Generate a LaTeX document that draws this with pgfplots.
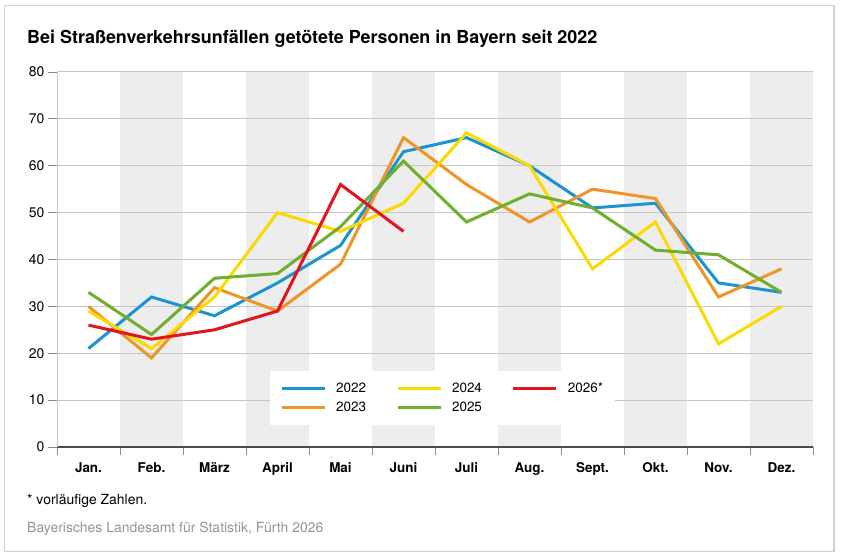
\documentclass[border=0pt]{standalone}
\usepackage{fontspec}
\setmainfont{TeX Gyre Heros}
\usepackage{pgfplots}
\pgfplotsset{compat=1.18}
\definecolor{c22}{HTML}{1C93D1}
\definecolor{c23}{HTML}{EE9527}
\definecolor{c24}{HTML}{FCDA00}
\definecolor{c25}{HTML}{6FAF2D}
\definecolor{c26}{HTML}{E2141C}
\definecolor{band}{HTML}{EDEDED}
\definecolor{gridc}{HTML}{C6C6C6}
\begin{document}
\begin{tikzpicture}
\fill[white] (0bp,0bp) rectangle (841bp,557bp);
\draw[black!18, line width=1.2bp] (4.5bp,5.5bp) rectangle (834bp,551.5bp);
\foreach \m in {1,3,5,7,9,11} {\fill[band] ({(57+63*\m)*1bp},110bp) rectangle ({(120+63*\m)*1bp},485bp);}
\node[anchor=base west, inner sep=0, font=\bfseries\fontsize{18}{21}\selectfont] at (27bp,513bp) {Bei Straßenverkehrsunfällen getötete Personen in Bayern seit 2022};
\node[anchor=base west, inner sep=0, font=\fontsize{14}{16}\selectfont] at (27bp,52bp) {* vorläufige Zahlen.};
\node[anchor=base west, inner sep=0, font=\fontsize{14}{16}\selectfont, text=black!42] at (27bp,25bp) {Bayerisches Landesamt für Statistik, Fürth 2026};
\begin{axis}[
  at={(57bp,110bp)}, anchor=south west,
  scale only axis, width=756bp, height=375bp,
  xmin=-0.5, xmax=11.5, ymin=0, ymax=80,
  xtick={0,...,11},
  xticklabels={Jan.,Feb.,März,April,Mai,Juni,Juli,Aug.,Sept.,Okt.,Nov.,Dez.},
  minor xtick={-0.5,0.5,...,11.5},
  ytick={0,10,...,80},
  axis lines*=left,
  tick align=outside,
  major tick length=9bp,
  minor tick length=8bp,
  every major x tick/.append style={draw=none},
  every tick/.append style={gridc!70!black, line width=0.8bp},
  x axis line style={draw=black!70, line width=1.6bp},
  y axis line style={draw=gridc, line width=1bp},
  ymajorgrids,
  major grid style={line width=1bp, draw=gridc},
  /pgf/number format/assume math mode=true,
  ticklabel style={font=\fontsize{14}{16}\selectfont},
  xticklabel style={font=\bfseries\fontsize{13.5}{16}\selectfont, yshift=-3bp},
  every axis plot/.append style={line width=3bp, line join=miter, mark=none},
  legend image code/.code={\draw[#1] (0bp,0bp) -- (43bp,0bp);},
  transpose legend,
  legend columns=2,
  legend cell align=left,
  legend style={at={(axis description cs:0.2817,0.058)}, anchor=south west,
    draw=none, fill=white, inner xsep=10bp, inner ysep=10bp,
    font=\fontsize{13.5}{15}\selectfont, row sep=4bp,
    /tikz/every odd column/.append style={column sep=8bp},
    /tikz/every even column/.append style={column sep=28bp}},
]
\addplot[c22] coordinates {(0,21)(1,32)(2,28)(3,35)(4,43)(5,63)(6,66)(7,60)(8,51)(9,52)(10,35)(11,33)};
\addlegendentry{2022}
\addplot[c23] coordinates {(0,30)(1,19)(2,34)(3,29)(4,39)(5,66)(6,56)(7,48)(8,55)(9,53)(10,32)(11,38)};
\addlegendentry{2023}
\addplot[c24] coordinates {(0,29)(1,21)(2,32)(3,50)(4,46)(5,52)(6,67)(7,60)(8,38)(9,48)(10,22)(11,30)};
\addlegendentry{2024}
\addplot[c25] coordinates {(0,33)(1,24)(2,36)(3,37)(4,47)(5,61)(6,48)(7,54)(8,51)(9,42)(10,41)(11,33)};
\addlegendentry{2025}
\addplot[c26] coordinates {(0,26)(1,23)(2,25)(3,29)(4,56)(5,46)};
\addlegendentry{2026*}
\end{axis}
\end{tikzpicture}
\end{document}
